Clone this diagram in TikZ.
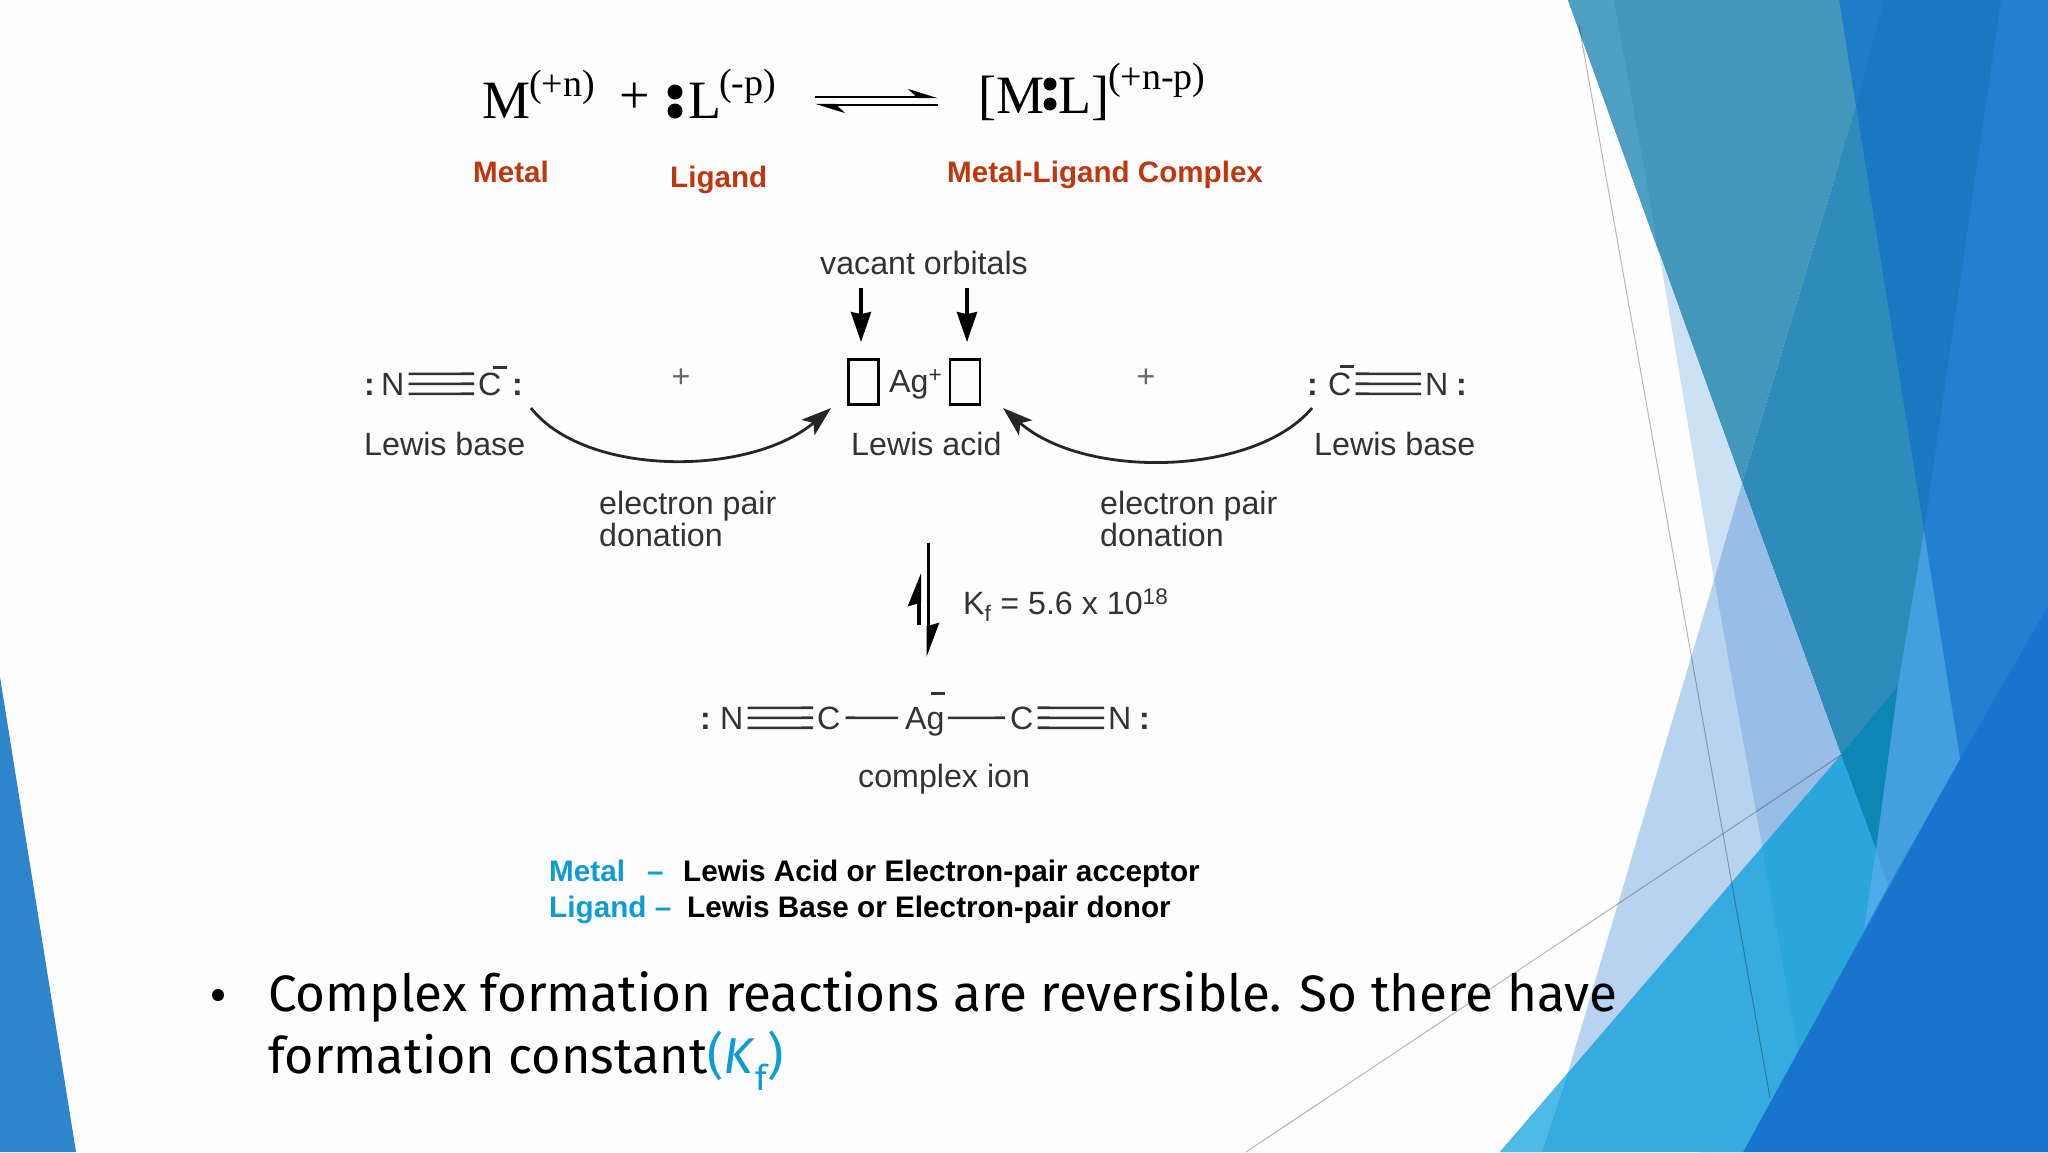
\documentclass[tikz,border=0pt]{standalone}
\usepackage{fontspec}
\setmainfont{Liberation Sans}
\newfontfamily\timesfont{Liberation Serif}
\newfontfamily\bodyfont{Fira Sans}
\usepackage{tikz}
\usetikzlibrary{arrows.meta}
\definecolor{rustred}{HTML}{C0370E}
\definecolor{legendblue}{HTML}{0F9BD8}
\definecolor{scangray}{HTML}{333333}
\tikzset{
	hex/.code={\definecolor{facetfill}{HTML}{#1}\pgfkeysalso{/tikz/fill=facetfill}},
	big/.style={font=\timesfont\fontsize{54}{60}\selectfont, inner sep=0pt, anchor=base west},
	small/.style={font=\timesfont\fontsize{38}{44}\selectfont, inner sep=0pt, anchor=base west},
	redlabel/.style={font=\bfseries\fontsize{29.6}{36}\selectfont, text=rustred, inner sep=0pt, anchor=base west},
	chem/.style={font=\fontsize{32.2}{36}\selectfont, text=scangray, inner sep=0pt, anchor=base west, text depth=0pt},
	colon/.style={chem, font=\bfseries\fontsize{32.2}{36}\selectfont},
	legend/.style={font=\bfseries\fontsize{29.7}{36}\selectfont, inner sep=0pt, anchor=base west},
	body/.style={font=\bodyfont\fontsize{51.2}{60}\selectfont, inner sep=0pt, anchor=base west},
	bond/.style={line width=2.6pt, draw=scangray},
	pointer/.style={line width=3.4pt, -{Stealth[length=30pt, width=20pt, inset=2pt]}},
	curved/.style={line width=2.8pt, draw=black!85, -{Stealth[length=30pt, width=20pt, inset=7pt]}},
	orbital/.style={draw=black, line width=2.8pt, minimum width=30pt, minimum height=45pt, inner sep=0pt},
	thin line/.style={line width=1pt, black, opacity=0.28},
	eqline/.style={line width=2.4pt, -{Stealth[harpoon, length=26pt, width=16pt]}},
}
\newcommand{\triplebond}[2]{
	\draw[bond] ([xshift=4pt, yshift=10pt]#1.east) -- ([xshift=-4pt, yshift=10pt]#2.west);
	\draw[bond] ([xshift=4pt]#1.east) -- ([xshift=-4pt]#2.west);
	\draw[bond] ([xshift=4pt, yshift=-10pt]#1.east) -- ([xshift=-4pt, yshift=-10pt]#2.west);
}
\begin{document}
\begin{tikzpicture}[x=1pt, y=-1pt]
	\useasboundingbox (0,0) rectangle (2048,1152);
	\fill[hex=FDFDFD] (0,0) rectangle (2048,1152);

	\fill[hex=2F85CC] (0,677) -- (76,1152) -- (0,1152) -- cycle;

	\fill[hex=2A8BD0] (1839,0) -- (2048,0) -- (2048,1152) -- (1700,1152) -- (1841,755) -- cycle;
	\fill[hex=237FD0] (2001,0) -- (2048,0) -- (2048,606) -- (1960,759) -- (1924,531) -- cycle;
	\fill[hex=1A78C2] (1839,0) -- (2001,0) -- (1924,531) -- cycle;
	\fill[hex=1F7CC8] (1839,0) -- (1884,0) -- (1856,107) -- cycle;
	\fill[hex=1874CC] (2048,606) -- (1960,759) -- (1743,1152) -- (2048,1152) -- cycle;
	\fill[hex=4397BB] (1568,0) -- (1839,0) -- (1856,107) -- (1742,483) -- cycle;
	\fill[hex=4F9FC2] (1568,0) -- (1614,0) -- (1659,252) -- cycle;
	\fill[hex=2F8BB9] (1856,107) -- (1924,531) -- (1898,686) -- (1841,755) -- (1742,483) -- cycle;
	\fill[hex=0B86B5] (1841,755) -- (1898,686) -- (1876,850) -- cycle;
	\fill[hex=459FDF] (1924,531) -- (1960,759) -- (1888,886) -- (1876,850) -- (1898,686) -- cycle;
	\fill[hex=CDE1F5] (1659,252) -- (1742,483) -- (1714,580) -- cycle;
	\fill[hex=98BDE6] (1742,483) -- (1841,755) -- (1762,851) -- (1714,580) -- cycle;
	\fill[hex=B8D3EF] (1714,580) -- (1763,851) -- (1566,1079) -- cycle;
	\fill[hex=36ABE0] (1841,755) -- (1876,850) -- (1888,886) -- (1743,1152) -- (1500,1152) -- cycle;
	\fill[hex=2AA6DD] (1841,755) -- (1876,850) -- (1864,930) -- (1798,1050) -- (1762,847) -- cycle;
	\fill[hex=50A9E8] (1876,850) -- (1888,886) -- (1864,930) -- cycle;
	\fill[hex=50BAE6] (1500,1152) -- (1542,1152) -- (1568,1073) -- cycle;

	\coordinate (lineTop) at (1579,25);
	\coordinate (lineEnd) at (1770,1098);
	\coordinate (lineJoin) at (1841,755);
	\coordinate (lineFoot) at (1246,1152);
	\draw[thin line] (lineTop) -- (lineEnd);
	\draw[thin line] (lineJoin) -- (lineFoot);

	\node[big] (metal) at (482,118) {M};
	\node[small] (metalCharge) at (529,96) {(+n)};
	\node[big, anchor=center] (plus) at (635,98) {+};
	\fill (675,92) circle (7.5);
	\fill (675,111) circle (7.5);
	\node[big] (ligand) at (688,118) {L};
	\node[small] (ligandCharge) at (719,95) {(-p)};
	\coordinate (eqA) at (815,97);
	\coordinate (eqB) at (938,97);
	\coordinate (eqC) at (938,105);
	\coordinate (eqD) at (815,105);
	\draw[eqline] (eqA) -- (eqB);
	\draw[eqline] (eqC) -- (eqD);
	\node[big] (complexA) at (978,113) {[M};
	\fill (1050,84) circle (6.5);
	\fill (1050,104) circle (6.5);
	\node[big] (complexB) at (1058,113) {L]};
	\node[small] (complexCharge) at (1108,89) {(+n-p)};

	\node[redlabel] (metalName) at (473,182) {Metal};
	\node[redlabel] (ligandName) at (670,187) {Ligand};
	\node[redlabel] (complexName) at (947,182) {Metal-Ligand Complex};

	\node[chem] (vacant) at (820,274) {vacant orbitals};
	\node[orbital] (boxA) at (863.5,382) {};
	\node[orbital] (boxB) at (965,382) {};
	\coordinate (vacantA) at (861,288);
	\coordinate (vacantB) at (967,288);
	\draw[pointer] (vacantA) -- ([yshift=16pt]boxA.north -| vacantA);
	\draw[pointer] (vacantB) -- ([yshift=16pt]boxB.north -| vacantB);
	\node[chem] (silver) at (889,392) {Ag\textsuperscript{+}};
	\node[chem] (acid) at (851,455) {Lewis acid};

	\node[colon] (colonA) at (364,395) {:};
	\node[chem] (nitroA) at (381,395) {N};
	\node[chem] (carbA) at (478,395) {C};
	\node[colon] (colonB) at (512,395) {:};
	\triplebond{nitroA}{carbA}
	\coordinate (barA) at (493,367);
	\coordinate (barB) at (507,367);
	\draw[bond, line width=3pt] (barA) -- (barB);
	\node[chem] (baseA) at (364,455) {Lewis base};

	\node[colon] (colonC) at (1307,395) {:};
	\node[chem] (carbB) at (1328,395) {C};
	\node[chem] (nitroB) at (1425,395) {N};
	\node[colon] (colonD) at (1456,395) {:};
	\triplebond{carbB}{nitroB}
	\coordinate (barC) at (1340,366);
	\coordinate (barD) at (1354,366);
	\draw[bond, line width=3pt] (barC) -- (barD);
	\node[chem] (baseB) at (1314,455) {Lewis base};

	\node[chem, anchor=center, text=black!60] (plusA) at (681,378) {+};
	\node[chem, anchor=center, text=black!60] (plusB) at (1146,378) {+};

	\coordinate (curveA) at (531,408);
	\coordinate (curveB) at (831,408);
	\coordinate (curveC) at (1312,408);
	\coordinate (curveD) at (1003,408);
	\draw[curved] (curveA) .. controls (585,477) and (750,477) .. (curveB);
	\draw[curved] (curveC) .. controls (1255,476) and (1085,480) .. (curveD);

	\node[chem] (donorA) at (599,514) {electron pair};
	\node[chem] (donationA) at (599,546) {donation};
	\node[chem] (donorB) at (1100,514) {electron pair};
	\node[chem] (donationB) at (1100,546) {donation};

	\coordinate (downA) at (928,543);
	\coordinate (downB) at (928,657);
	\coordinate (upA) at (919,625);
	\coordinate (upB) at (919,573);
	\draw[line width=3pt, -{Stealth[harpoon, length=30pt, width=22pt, inset=3pt]}] (downA) -- (downB);
	\draw[line width=4pt, -{Stealth[harpoon, length=28pt, width=22pt, inset=3pt]}] (upA) -- (upB);
	\node[chem] (constant) at (963,614) {K\textsubscript{f} = 5.6 x 10\textsuperscript{18}};

	\node[colon] (colonE) at (700,729) {:};
	\node[chem] (nitroC) at (720,729) {N};
	\node[chem] (carbC) at (817,729) {C};
	\node[chem] (silverC) at (905,729) {Ag};
	\node[chem] (carbD) at (1010,729) {C};
	\node[chem] (nitroD) at (1108,729) {N};
	\node[colon] (colonF) at (1139,729) {:};
	\triplebond{nitroC}{carbC}
	\triplebond{carbD}{nitroD}
	\draw[bond] ([xshift=5pt]carbC.east) -- ([xshift=-7pt]silverC.west);
	\draw[bond] ([xshift=3pt]silverC.east) -- ([xshift=-5pt]carbD.west);
	\coordinate (barE) at (931,693);
	\coordinate (barF) at (945,693);
	\draw[bond, line width=3pt] (barE) -- (barF);
	\node[chem] (complexIon) at (858,787) {complex ion};

	\node[legend, text=legendblue] (legendA) at (549,881) {Metal};
	\node[legend, text=legendblue] (dashA) at (647,881) {--};
	\node[legend] (legendB) at (683,881) {Lewis Acid or Electron-pair acceptor};
	\node[legend, text=legendblue] (legendC) at (549,917) {Ligand --};
	\node[legend] (legendD) at (687,917) {Lewis Base or Electron-pair donor};

	\fill (218,995) circle (6);
	\node[body] (bodyA) at (268,1011) {Complex formation reactions are reversible. So there have};
	\node[body, font=\bodyfont\fontsize{50.4}{60}\selectfont] (bodyB) at (268,1073) {formation constant\textcolor{legendblue}{(\textit{K}\textsubscript{f})}};
\end{tikzpicture}
\end{document}
